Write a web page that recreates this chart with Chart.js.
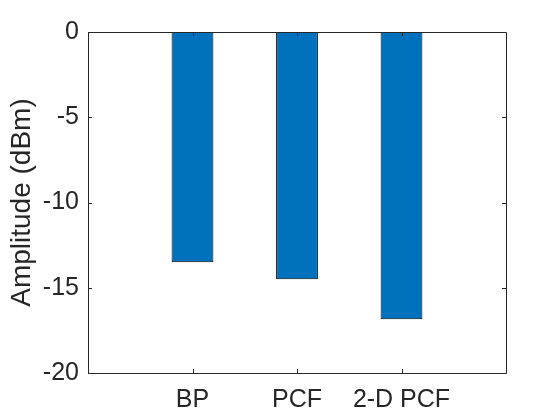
<!DOCTYPE html>
<html>
<head>
<meta charset="utf-8">
<script src="https://cdn.jsdelivr.net/npm/chart.js"></script>
<style>
	body { margin: 0; background: #fff; }
</style>
</head>
<body>
<canvas id="amp-chart" width="560" height="420"></canvas>
<script>
// Chart data
const categories = ['BP', 'PCF', '2-D PCF'];
const amplitudes = [-13.5, -14.5, -16.85];
const yTicks = [-20, -15, -10, -5, 0];

const axisColor = '#262626';
const fontFamily = '"Liberation Sans", Arial, Helvetica, sans-serif';

// Draw the MATLAB style box with inward tick marks
const boxPlugin = {
	id: 'matlabBox',
	afterDatasetsDraw(chart) {
		const {ctx, chartArea: area, scales: {x, y}} = chart;
		const len = 4;
		ctx.save();
		ctx.strokeStyle = axisColor;
		ctx.lineWidth = 1;
		ctx.beginPath();
		ctx.rect(Math.round(area.left) + 0.5, Math.round(area.top) + 0.5,
			Math.round(area.right - area.left), Math.round(area.bottom - area.top));
		for (const v of yTicks) {
			const py = Math.round(y.getPixelForValue(v)) + 0.5;
			ctx.moveTo(area.left, py);
			ctx.lineTo(area.left + len, py);
			ctx.moveTo(area.right, py);
			ctx.lineTo(area.right - len, py);
		}
		categories.forEach((c, i) => {
			const px = Math.round(x.getPixelForValue(i + 1)) + 0.5;
			ctx.moveTo(px, area.bottom);
			ctx.lineTo(px, area.bottom - len);
			ctx.moveTo(px, area.top);
			ctx.lineTo(px, area.top + len);
		});
		ctx.stroke();
		ctx.restore();
	}
};

new Chart(document.getElementById('amp-chart'), {
	type: 'bar',
	data: {
		datasets: [{
			data: amplitudes.map((v, i) => ({x: i + 1, y: v})),
			backgroundColor: '#0072BD',
			borderColor: '#000000',
			borderWidth: 1,
			borderSkipped: false,
			barPercentage: 0.4,
			categoryPercentage: 1
		}]
	},
	options: {
		responsive: false,
		animation: false,
		layout: {
			padding: {left: 0, right: 54, top: 32, bottom: 0}
		},
		plugins: {
			legend: {display: false},
			tooltip: {enabled: false}
		},
		scales: {
			x: {
				type: 'linear',
				min: 0,
				max: 4,
				offset: false,
				grid: {display: false, drawTicks: false, offset: false},
				border: {display: false},
				afterBuildTicks: scale => {
					scale.ticks = categories.map((c, i) => ({value: i + 1}));
				},
				afterFit: scale => { scale.height = 47; },
				ticks: {
					color: axisColor,
					padding: 12,
					maxRotation: 0,
					autoSkip: false,
					font: {family: fontFamily, size: 25},
					callback: value => categories[value - 1] || ''
				}
			},
			y: {
				min: -20,
				max: 0,
				grid: {display: false, drawTicks: false},
				border: {display: false},
				afterBuildTicks: scale => {
					scale.ticks = yTicks.map(v => ({value: v}));
				},
				afterFit: scale => { scale.width = 88; },
				ticks: {
					color: axisColor,
					padding: 9,
					font: {family: fontFamily, size: 25}
				},
				title: {
					display: true,
					text: 'Amplitude (dBm)',
					color: axisColor,
					padding: {top: 5, bottom: 0},
					font: {family: fontFamily, size: 28}
				}
			}
		}
	},
	plugins: [boxPlugin]
});
</script>
</body>
</html>
